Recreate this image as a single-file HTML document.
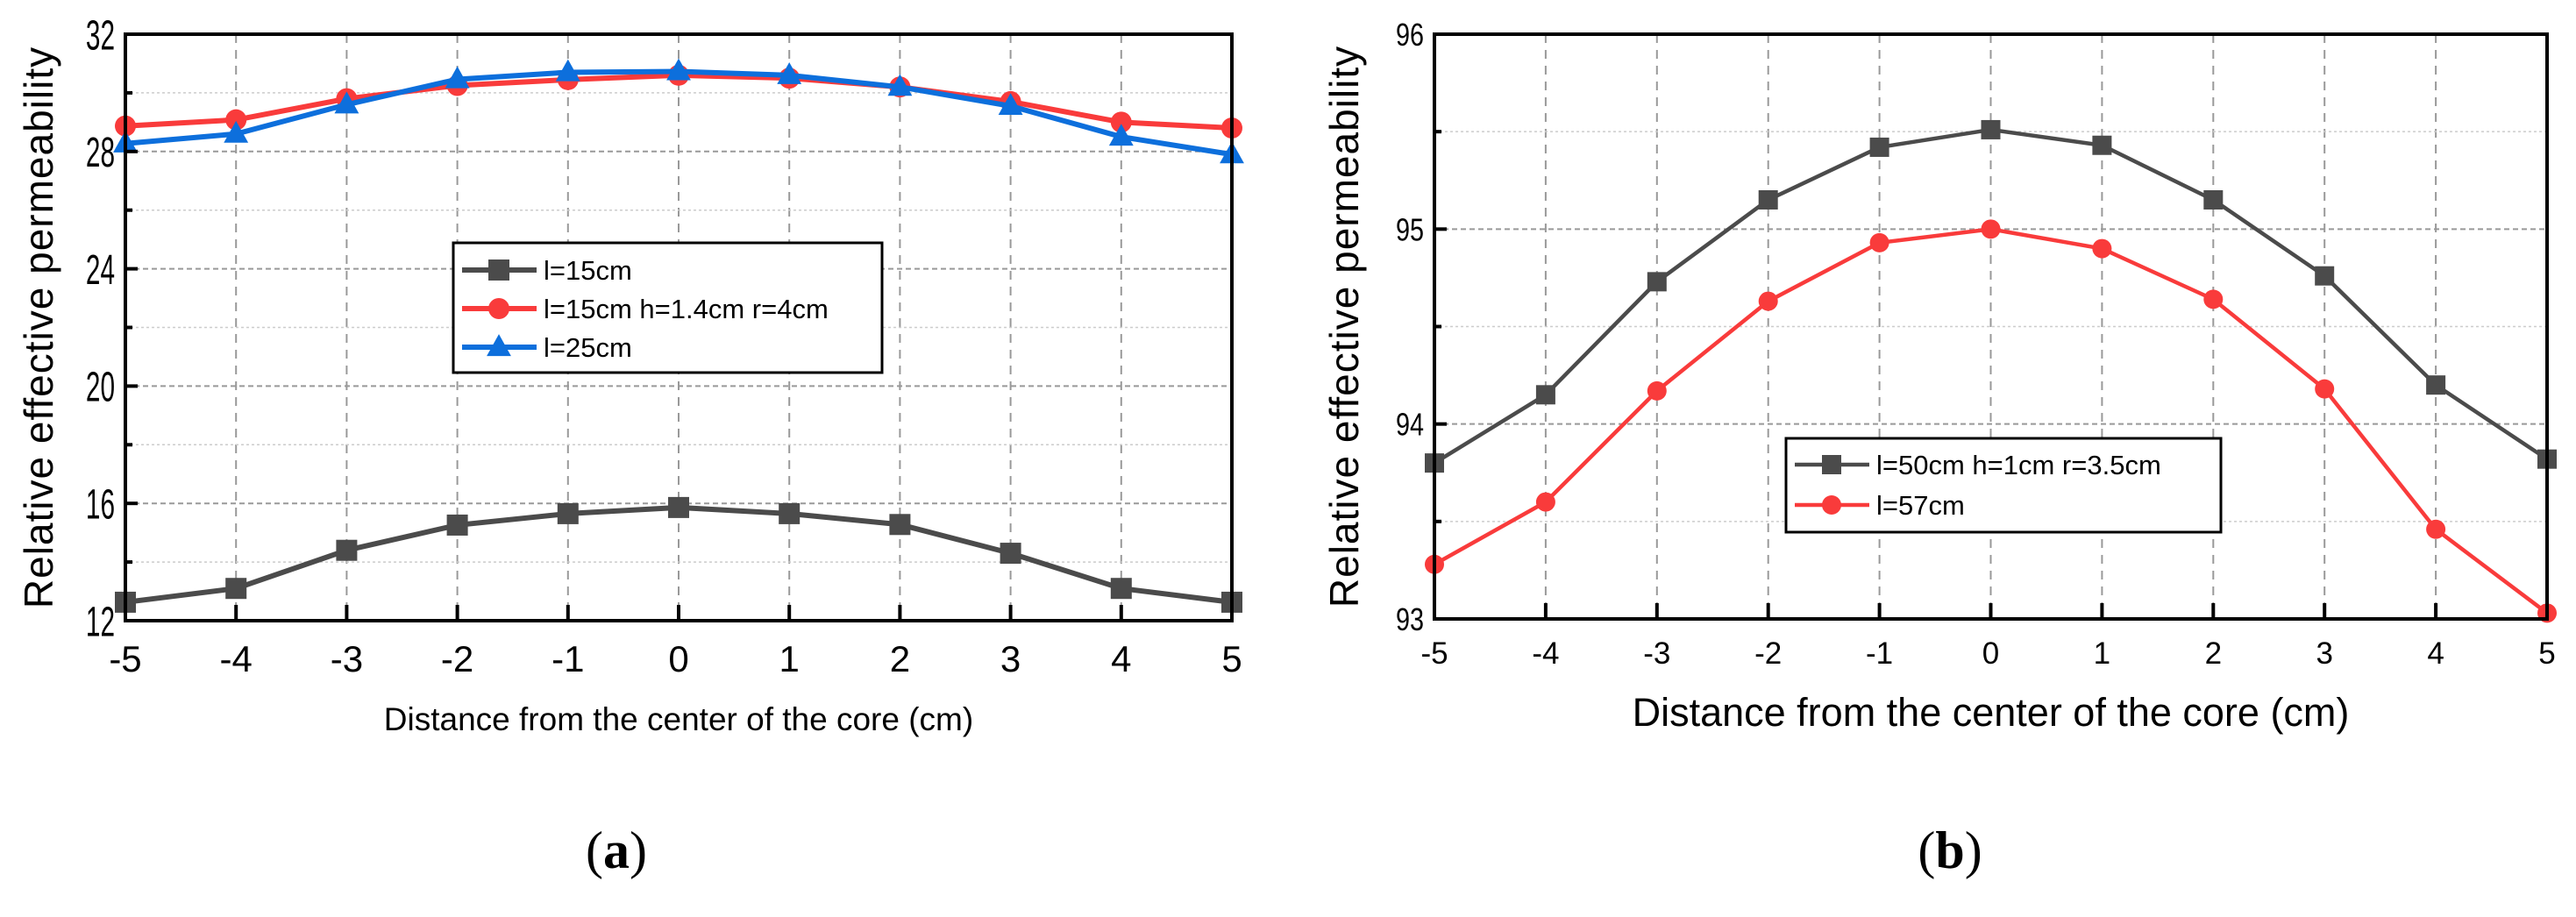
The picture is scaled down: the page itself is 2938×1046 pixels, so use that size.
<!DOCTYPE html>
<html><head><meta charset="utf-8"><style>
html,body{margin:0;padding:0;background:#fff;width:2938px;height:1046px;overflow:hidden}
svg{display:block;font-family:"Liberation Sans",Arial,sans-serif}
</style></head><body>
<svg id="fig" width="2938" height="1046" viewBox="0 0 2938 1046"></svg>
<script>
const xCats=[-5,-4,-3,-2,-1,0,1,2,3,4,5];
const aSeries1=[12.63,13.1,14.4,15.26,15.65,15.86,15.65,15.28,14.3,13.1,12.63];
const aSeries2=[28.87,29.08,29.8,30.25,30.45,30.6,30.5,30.2,29.7,29.0,28.8];
const aSeries3=[28.27,28.6,29.6,30.46,30.7,30.73,30.6,30.2,29.55,28.5,27.9];
const aYTicks=[12,16,20,24,28,32];
const aYMinor=[14,18,22,26,30];
const bSeries1=[93.8,94.15,94.73,95.15,95.42,95.51,95.43,95.15,94.76,94.2,93.82];
const bSeries2=[93.28,93.6,94.17,94.63,94.93,95.0,94.9,94.64,94.18,93.46,93.03];
const bYTicks=[93,94,95,96];
const bYMinor=[93.5,94.5,95.5];
const legendA=["l=15cm","l=15cm h=1.4cm r=4cm","l=25cm"];
const legendB=["l=50cm h=1cm r=3.5cm","l=57cm"];

const NS="http://www.w3.org/2000/svg";
const svg=document.getElementById('fig');
function el(tag,attrs,parent){const e=document.createElementNS(NS,tag);for(const k in attrs)e.setAttribute(k,attrs[k]);(parent||svg).appendChild(e);return e;}

function marker(g,type,x,y,color,s){
  let m;
  if(type==='sq')m=el('rect',{x:x-s/2,y:y-s/2,width:s,height:s,fill:color},g);
  else if(type==='ci')m=el('circle',{cx:x,cy:y,r:s/2,fill:color},g);
  else m=el('polygon',{points:`${x},${y-s*0.62} ${x-s*0.58},${y+s*0.42} ${x+s*0.58},${y+s*0.42}`,fill:color},g);
  return m;
}

function chart(cfg){
  const g=el('g',{});
  
  
  const X=v=>cfg.L+(v-xCats[0])/(xCats[xCats.length-1]-xCats[0])*(cfg.R-cfg.L);
  const Y=v=>cfg.B-(v-cfg.ymin)/(cfg.ymax-cfg.ymin)*(cfg.B-cfg.T);
  xCats.forEach(v=>{if(v===xCats[0]||v===xCats[xCats.length-1])return;
    const l=el('line',{x1:X(v),x2:X(v),y1:cfg.T,y2:cfg.B,stroke:'#999','stroke-width':2,'stroke-dasharray':'10,8'},g);
    });
  cfg.yt.forEach(v=>{if(v===cfg.ymin||v===cfg.ymax)return;
    const l=el('line',{x1:cfg.L,x2:cfg.R,y1:Y(v),y2:Y(v),stroke:'#999','stroke-width':2,'stroke-dasharray':'6,4'},g);
    });
  cfg.ym.forEach(v=>{
    const l=el('line',{x1:cfg.L,x2:cfg.R,y1:Y(v),y2:Y(v),stroke:'#ccc','stroke-width':1.5,'stroke-dasharray':'3,3'},g);
    });
  cfg.series.forEach((s,i)=>{
    const sg=el('g',{},g);
    
    
    el('polyline',{points:s.vals.map((v,j)=>X(xCats[j])+','+Y(v)).join(' '),fill:'none',stroke:s.color,'stroke-width':cfg.lw,'stroke-linejoin':'round'},sg);
    s.vals.forEach((v,j)=>{const m=marker(sg,s.m,X(xCats[j]),Y(v),s.color,cfg.ms);
      });
  });
  const f=el('rect',{x:cfg.L,y:cfg.T,width:cfg.R-cfg.L,height:cfg.B-cfg.T,fill:'none',stroke:'#000','stroke-width':4},g);
  
  xCats.forEach(v=>{el('line',{x1:X(v),x2:X(v),y1:cfg.B,y2:cfg.B-18,stroke:'#000','stroke-width':4},g);
    const t=el('text',{x:X(v),y:cfg.xlY,'font-size':cfg.xfs,'text-anchor':'middle',fill:'#000'},g);
    t.textContent=v;});
  cfg.yt.forEach(v=>{el('line',{x1:cfg.L,x2:cfg.L+14,y1:Y(v),y2:Y(v),stroke:'#000','stroke-width':4},g);
    const t=el('text',{x:0,y:0,'font-size':cfg.yfs,'text-anchor':'end',fill:'#000',transform:`translate(${cfg.L-12},${Y(v)+cfg.yfs*0.36}) scale(${cfg.ysx},1)`},g);
    t.textContent=v;});
  cfg.ym.forEach(v=>el('line',{x1:cfg.L,x2:cfg.L+8,y1:Y(v),y2:Y(v),stroke:'#000','stroke-width':4},g));
  const xt=el('text',{x:(cfg.L+cfg.R)/2,y:cfg.xtY,'font-size':cfg.xtfs,'text-anchor':'middle',fill:'#000'},g);
  xt.textContent='Distance from the center of the core (cm)';
  
  const yt=el('text',{x:0,y:0,'font-size':cfg.ytfs,'text-anchor':'middle',fill:'#000','letter-spacing':'1',transform:`translate(${cfg.ytX},${(cfg.T+cfg.B)/2}) rotate(-90)`},g);
  yt.textContent='Relative effective permeability';
  
  const lg=el('g',{},g);
  
  el('rect',{x:cfg.lg.x,y:cfg.lg.y,width:cfg.lg.w,height:cfg.lg.h,fill:'#fff',stroke:'#000','stroke-width':3},lg);
  cfg.series.forEach((s,i)=>{
    const ey=cfg.lg.y+cfg.lg.y0+i*cfg.lg.dy;
    const eg=el('g',{},lg);
    
    el('line',{x1:cfg.lg.x+10,x2:cfg.lg.x+95,y1:ey,y2:ey,stroke:s.color,'stroke-width':cfg.lw},eg);
    marker(eg,s.m,cfg.lg.x+52,ey,s.color,cfg.ms);
    const t=el('text',{x:cfg.lg.x+103,y:ey+cfg.lg.fs*0.36,'font-size':cfg.lg.fs,fill:'#000'},eg);
    t.textContent=s.label;
  });
}

chart({name:'chart-a',L:143,R:1405,T:39,B:708,ymin:12,ymax:32,yt:aYTicks,ym:aYMinor,lw:6,ms:24,
  xlY:766,xfs:42,yfs:48,ysx:0.62,xtY:833,xtfs:37,ytX:60,ytfs:46,
  series:[{vals:aSeries1,color:'#4b4b4b',m:'sq',label:legendA[0]},
          {vals:aSeries2,color:'#f93b3b',m:'ci',label:legendA[1]},
          {vals:aSeries3,color:'#0d6fdc',m:'tr',label:legendA[2]}],
  lg:{x:517,y:277,w:489,h:148,y0:31,dy:44,fs:31}});
chart({name:'chart-b',L:1636,R:2905,T:39,B:706,ymin:93,ymax:96,yt:bYTicks,ym:bYMinor,lw:4.5,ms:22,
  xlY:757,xfs:35,yfs:36,ysx:0.8,xtY:828,xtfs:45,ytX:1549,ytfs:46,
  series:[{vals:bSeries1,color:'#4b4b4b',m:'sq',label:legendB[0]},
          {vals:bSeries2,color:'#f93b3b',m:'ci',label:legendB[1]}],
  lg:{x:2037,y:500,w:496,h:107,y0:30,dy:46,fs:31}});

const ca=el('text',{x:703,y:990,'font-size':60,'text-anchor':'middle','font-family':'Liberation Serif, serif'});
ca.innerHTML='(<tspan font-weight="bold">a</tspan>)';

const cb=el('text',{x:2224,y:990,'font-size':60,'text-anchor':'middle','font-family':'Liberation Serif, serif'});
cb.innerHTML='(<tspan font-weight="bold">b</tspan>)';

</script>
</body></html>
